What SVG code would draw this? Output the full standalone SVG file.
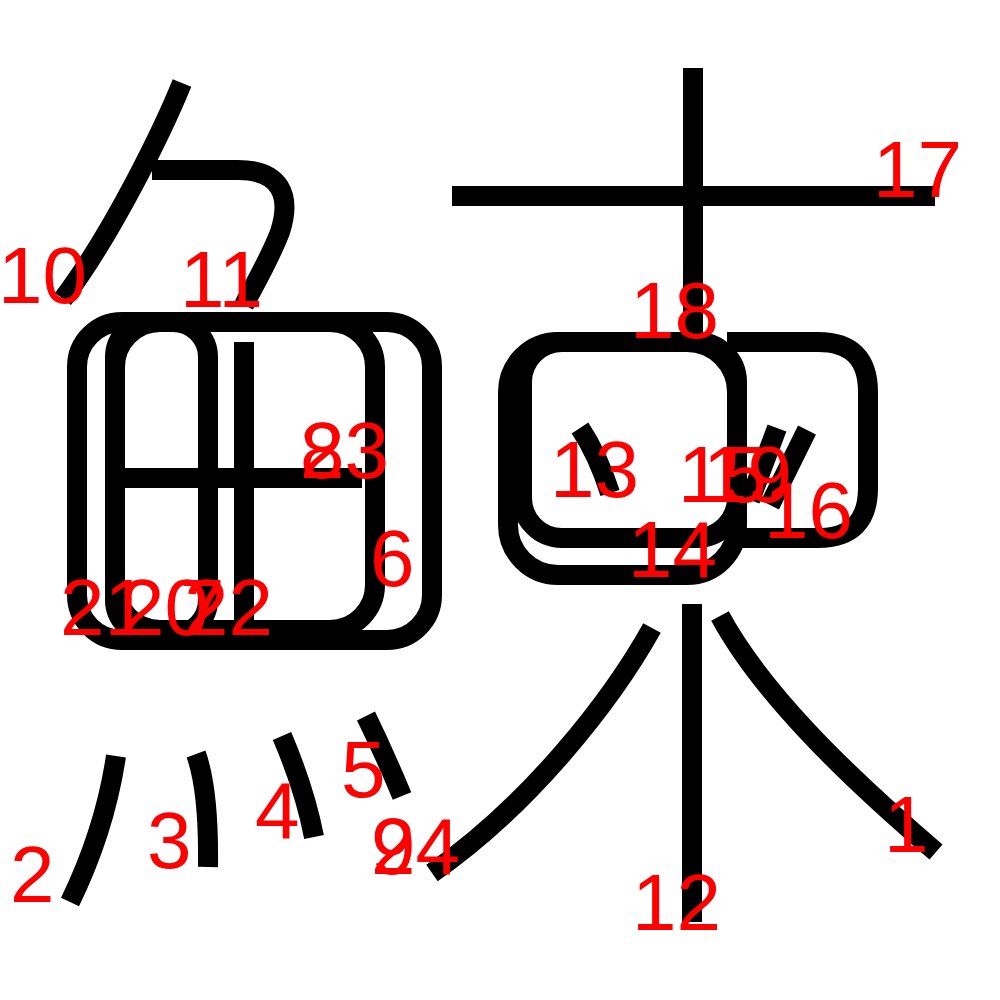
<svg xmlns="http://www.w3.org/2000/svg" width="1000" height="1000" viewBox="0 0 1000 1000">
<style>
.s{fill:none;stroke:#000;stroke-width:20;stroke-linecap:butt;stroke-linejoin:round}
.n{fill:#f00;font-family:"Liberation Sans",Arial,sans-serif;font-size:80px}
</style>
<rect width="1000" height="1000" fill="#fff"/>
<g id="strokes">
<g id="stroke-10"><path class="s" d="M182,83 C165,125 115,230 63,299"/></g>
<g id="stroke-11"><path class="s" d="M152,170 L238,170 C280,170 292,195 280,232 C270,258 257,280 244,305"/></g>
<g id="box-outer"><rect class="s" x="77" y="322" width="355" height="318" rx="45"/></g>
<g id="box-inner"><rect class="s" x="115" y="322" width="260" height="308" rx="45"/></g>
<g id="box-left"><rect class="s" x="115" y="322" width="93" height="313" rx="35"/></g>
<g id="field-vertical"><path class="s" d="M244,342 V627"/></g>
<g id="field-horizontal"><path class="s" d="M124,478 H362"/></g>
<g id="stroke-2"><path class="s" d="M116,756 Q105,830 70,902"/></g>
<g id="stroke-3"><path class="s" d="M196,754 Q209,790 208,867"/></g>
<g id="stroke-4"><path class="s" d="M282,736 Q305,790 314,837"/></g>
<g id="stroke-5"><path class="s" d="M366,716 Q385,755 402,796"/></g>
<g id="stroke-17"><path class="s" d="M452,196 H935"/></g>
<g id="stroke-18"><path class="s" d="M693,68 V342"/></g>
<g id="box-lower"><rect class="s" x="508" y="342" width="229" height="233" rx="50"/></g>
<g id="box-upper"><rect class="s" x="522" y="342" width="215" height="196" rx="40"/></g>
<g id="box-right"><path class="s" d="M727,342 H818 Q868,342 868,392 V488 Q868,538 818,538 H737"/></g>
<g id="stroke-13"><path class="s" d="M580,428 Q598,455 610,493"/></g>
<g id="stroke-15"><path class="s" d="M777,428 L750,500"/></g>
<g id="stroke-19"><path class="s" d="M807,430 L770,505"/></g>
<g id="stroke-12"><path class="s" d="M692,604 V922"/></g>
<g id="stroke-24"><path class="s" d="M652,628 C612,700 530,805 432,873"/></g>
<g id="stroke-1"><path class="s" d="M720,616 C760,690 840,770 936,852"/></g>
</g>
<g id="labels">
<text class="n" x="884" y="852">1</text>
<text class="n" x="10" y="902">2</text>
<text class="n" x="147" y="868">3</text>
<text class="n" x="255" y="838">4</text>
<text class="n" x="341" y="797">5</text>
<text class="n" x="370" y="586">6</text>
<text class="n" x="180" y="635">7</text>
<text class="n" x="300" y="478">8</text>
<text class="n" x="371" y="874">9</text>
<text class="n" x="-2" y="303">10</text>
<text class="n" x="180" y="307">11</text>
<text class="n" x="632" y="930">12</text>
<text class="n" x="550" y="497">13</text>
<text class="n" x="628" y="577">14</text>
<text class="n" x="678" y="502">15</text>
<text class="n" x="764" y="538">16</text>
<text class="n" x="873" y="197">17</text>
<text class="n" x="630" y="338">18</text>
<text class="n" x="703" y="502">19</text>
<text class="n" x="120" y="635">20</text>
<text class="n" x="60" y="635">21</text>
<text class="n" x="184" y="635">22</text>
<text class="n" x="300" y="478">23</text>
<text class="n" x="371" y="874">24</text>
</g>
</svg>
